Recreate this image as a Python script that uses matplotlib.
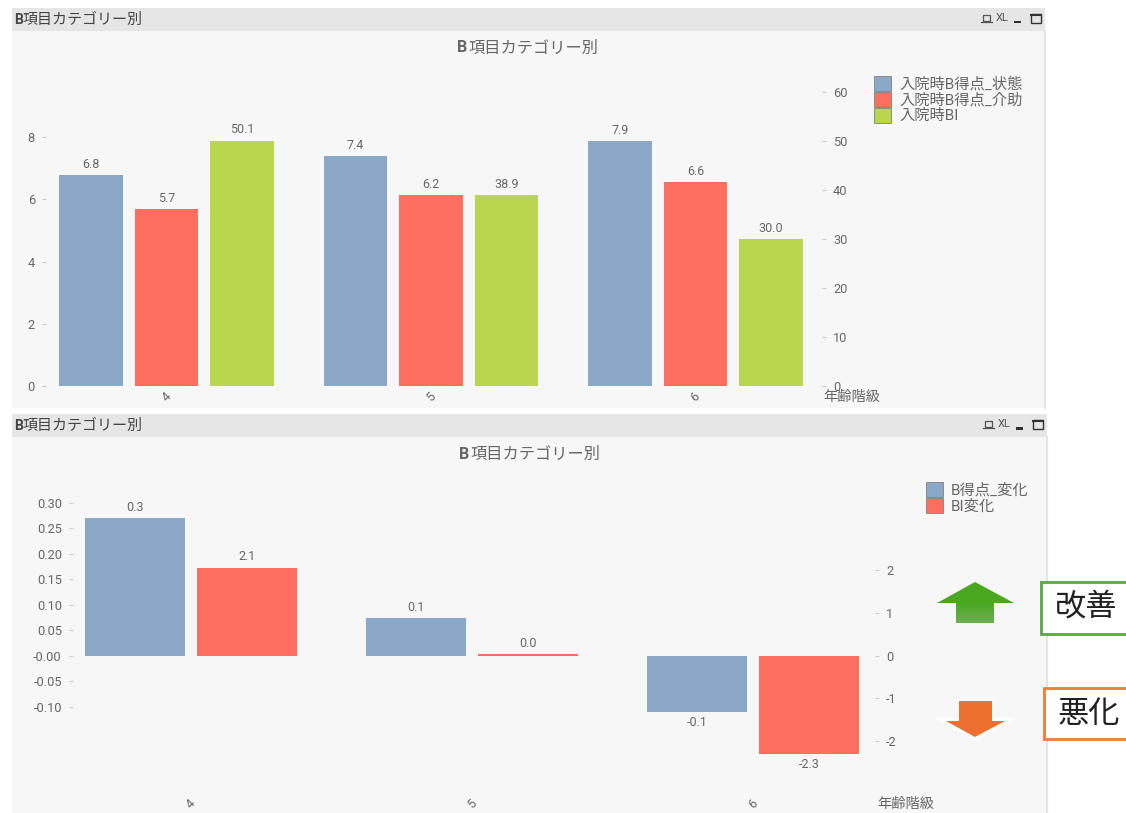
import numpy as np
import matplotlib
import matplotlib.pyplot as plt
from matplotlib.patches import Rectangle, Polygon

matplotlib.use('Agg')

plt.rcParams['font.family'] = ['Roboto', 'Noto Sans CJK JP', 'DejaVu Sans']
plt.rcParams['axes.unicode_minus'] = False

# chart data
age_groups = ['4', '5', '6']

b_status = [6.78, 7.4, 7.87]
b_assist = [5.7, 6.15, 6.57]
bi_admission = [50.1, 38.9, 30.0]
top_labels = ['入院時B得点_状態', '入院時B得点_介助', '入院時BI']
top_left_ticks = [0, 2, 4, 6, 8]
top_right_ticks = [0, 10, 20, 30, 40, 50, 60]

b_change = [0.27, 0.073, -0.11]
bi_change = [2.06, 0.03, -2.31]
bottom_labels = ['B得点_変化', 'BI変化']
bottom_left_ticks = [-0.10, -0.05, 0.0, 0.05, 0.10, 0.15, 0.20, 0.25, 0.30]
bottom_left_ticklabels = ['-0.10', '-0.05', '-0.00', '0.05', '0.10', '0.15', '0.20', '0.25', '0.30']
bottom_right_ticks = [-2, -1, 0, 1, 2]

TITLE = '項目カテゴリー別'
AXIS_NAME = '年齢階級'

BLUE = '#8ba8c9'
RED = '#ff6f61'
GREEN = '#bad64f'
TEXT = '#666666'

W, H = 1126, 813
fig = plt.figure(figsize=(W / 100, H / 100), dpi=100, facecolor='white')

# overlay in pixel coords for the window frames and side notes
bg = fig.add_axes([0, 0, 1, 1], zorder=0)
bg.set_xlim(0, W)
bg.set_ylim(H, 0)
bg.axis('off')

top = fig.add_axes([0, 0, 1, 1], zorder=5)
top.set_xlim(0, W)
top.set_ylim(H, 0)
top.axis('off')
top.patch.set_alpha(0)


def pixel_axes(left, right, y_top, y_bottom):
    return fig.add_axes([left / W, 1 - y_bottom / H, (right - left) / W, (y_bottom - y_top) / H], zorder=2)


def draw_panel(x0, x1, y0, y1, title_cx, title_y):
    bg.add_patch(Rectangle((x0, y0), x1 - x0, y1 - y0, fc='#f7f7f7', ec='none'))
    bg.add_patch(Rectangle((x0, y0), x1 - x0, 23, fc='#e6e6e6', ec='none'))
    bg.plot([x1, x1], [y0 + 23, y1], color='#e4e4e4', lw=1.5)
    # caption
    cy = y0 + 12
    bg.text(x0 + 2, cy, 'B', fontsize=10, fontweight='bold', color='#444444', va='center')
    bg.text(x0 + 11, cy, TITLE, fontsize=10.8, color='#444444', va='center')
    # chart title
    bg.text(title_cx - 69, title_y + 1, 'B', fontsize=11.5, fontweight='bold', color=TEXT, va='center')
    bg.text(title_cx - 58, title_y + 1, TITLE, fontsize=11.7, color=TEXT, va='center')
    # window icons
    ix = x1 - 62
    iy = cy - 1
    bg.add_patch(Rectangle((ix, iy - 4), 7, 6, fc='none', ec='#555555', lw=0.9))
    bg.plot([ix - 2, ix + 9], [iy + 3, iy + 3], color='#555555', lw=0.9)
    bg.text(ix + 19, iy - 1, 'XL', fontsize=8, color='#555555', ha='center', va='center')
    bg.add_patch(Rectangle((ix + 31, iy + 2), 7, 2.5, fc='#333333', ec='none'))
    bg.add_patch(Rectangle((ix + 48, iy - 5), 10, 9, fc='none', ec='#333333', lw=1))
    bg.plot([ix + 48, ix + 58], [iy - 4, iy - 4], color='#333333', lw=1.5)


def style_axis(ax):
    ax.patch.set_alpha(0)
    for s in ax.spines.values():
        s.set_visible(False)
    ax.tick_params(axis='y', length=3, width=0.8, color='#cccccc', labelcolor=TEXT, labelsize=9.2, pad=5)
    ax.tick_params(axis='x', length=0, labelcolor=TEXT, labelsize=9, pad=3, labelrotation=45)


draw_panel(12, 1045, 8, 408, 526, 47)
draw_panel(12, 1047, 414, 813, 528, 453)

# top chart
x = np.arange(len(age_groups))
ax1 = pixel_axes(46, 822, 70, 386)
ax1.set_xlim(-0.456, 2.478)
ax1.set_ylim(0, 316 / 31.1)
ax1r = ax1.twinx()
ax1r.set_ylim(0, 316 / 4.9)
ax1.set_zorder(3)
ax1r.set_zorder(2)

b1 = ax1.bar(x - 0.2855, b_status, 0.241, color=BLUE, label=top_labels[0])
b2 = ax1.bar(x, b_assist, 0.241, color=RED, label=top_labels[1])
b3 = ax1r.bar(x + 0.2855, bi_admission, 0.241, color=GREEN, label=top_labels[2])
for bars, a in ((b1, ax1), (b2, ax1), (b3, ax1r)):
    a.bar_label(bars, fmt='%.1f', padding=3, fontsize=9, color=TEXT)

ax1.set_xticks(x, age_groups)
ax1.set_yticks(top_left_ticks)
ax1r.set_yticks(top_right_ticks)
style_axis(ax1)
style_axis(ax1r)

leg1 = fig.legend([b1, b2, b3], top_labels, loc='upper left', bbox_to_anchor=(874 / W, 1 - 76 / H),
                  frameon=False, borderpad=0, borderaxespad=0, labelspacing=0, handlelength=1.12,
                  handleheight=1.15, handletextpad=0.52, fontsize=11, labelcolor=TEXT)
for h in leg1.legend_handles:
    h.set_edgecolor('#808080')
    h.set_linewidth(0.6)

# bottom chart
ax2 = pixel_axes(73, 875, 480, 793)
ax2.set_xlim(-0.42, 2.434)
ax2.set_ylim((655.5 - 793) / 510, (655.5 - 480) / 510)
ax2r = ax2.twinx()
ax2r.set_ylim((655.5 - 793) / 42.7, (655.5 - 480) / 42.7)
ax2.set_zorder(3)
ax2r.set_zorder(2)

b4 = ax2.bar(x - 0.2, b_change, 0.356, color=BLUE, label=bottom_labels[0])
b5 = ax2r.bar(x + 0.2, bi_change, 0.356, color=RED, label=bottom_labels[1])
ax2.bar_label(b4, fmt='%.1f', padding=3, fontsize=9, color=TEXT)
ax2r.bar_label(b5, fmt='%.1f', padding=3, fontsize=9, color=TEXT)

ax2.set_xticks(x, age_groups)
ax2.set_yticks(bottom_left_ticks, bottom_left_ticklabels)
ax2r.set_yticks(bottom_right_ticks)
style_axis(ax2)
style_axis(ax2r)

leg2 = fig.legend([b4, b5], bottom_labels, loc='upper left', bbox_to_anchor=(926 / W, 1 - 482 / H),
                  frameon=False, borderpad=0, borderaxespad=0, labelspacing=0, handlelength=1.12,
                  handleheight=1.15, handletextpad=0.52, fontsize=11, labelcolor=TEXT)
for h in leg2.legend_handles:
    h.set_edgecolor('#808080')
    h.set_linewidth(0.6)

# axis names
top.text(823, 397, AXIS_NAME, fontsize=10.3, color=TEXT, va='center')
top.text(877, 804, AXIS_NAME, fontsize=10.3, color=TEXT, va='center')

# side notes: arrows and boxes
up = Polygon([(975, 582), (1014, 603), (994, 603), (994, 623), (956, 623), (956, 603), (937, 603)],
             closed=True, fc='none', ec='none')
top.add_patch(up)
grad = np.linspace(0, 1, 64).reshape(-1, 1)
cmap = matplotlib.colors.LinearSegmentedColormap.from_list('g', ['#49a820', '#49a820', '#6bb055'])
img = top.imshow(grad, extent=(937, 1014, 623, 582), cmap=cmap, aspect='auto', zorder=3)
img.set_clip_path(up)
top.set_xlim(0, W)
top.set_ylim(H, 0)

top.add_patch(Polygon([(958, 700), (993, 700), (993, 718), (1017, 718), (975, 741), (934, 718), (958, 718)],
                      closed=True, fc='white', ec='none', zorder=3))
top.add_patch(Polygon([(959, 701), (992, 701), (992, 721), (1005, 721), (975, 737), (946, 721), (959, 721)],
                      closed=True, fc='#ed7030', ec='none', zorder=4))

top.add_patch(Rectangle((1041, 582), 100, 52, fc='white', ec='#5aa845', lw=2, zorder=3))
top.add_patch(Rectangle((1044, 688), 100, 51, fc='white', ec='#ed7d31', lw=2, zorder=3))
top.text(1055, 607, '改善', fontsize=22.5, color='#222222', va='center', zorder=4)
top.text(1058, 714, '悪化', fontsize=22.5, color='#222222', va='center', zorder=4)

fig.savefig('out.png', dpi=100)
plt.close(fig)
